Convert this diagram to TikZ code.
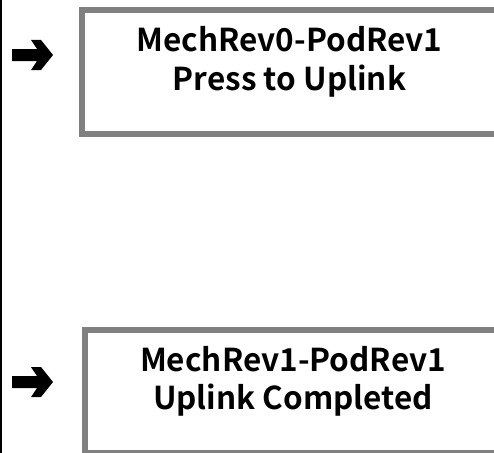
\documentclass[tikz,border=0pt]{standalone}
\usepackage{fontspec}
\setmainfont{Noto Sans CJK JP}[BoldFont=* Bold]
\begin{document}
\begin{tikzpicture}[x=1pt,y=-1pt,
  screen/.style={draw=boxgray,line width=6pt,minimum width=#1,inner sep=0pt},
  label/.style={font=\fontsize{31.5}{36}\selectfont\bfseries,anchor=base,inner sep=0pt},
  arrowglyph/.style={fill=black,draw=none}]
\definecolor{boxgray}{RGB}{128,128,128}
\useasboundingbox (0,0) rectangle (494,452);
\clip (0,0) rectangle (494,452);
\coordinate (ltop) at (1,-5);
\coordinate (lbot) at (1,460);
\draw[line width=2pt] (ltop) -- (lbot);
\node[screen=418pt,minimum height=124pt] (box1) at (291,72) {};
\node[screen=415pt,minimum height=123pt] (box2) at (292.5,391.5) {};
\node[label] (t1a) at (289.5,52) {MechRev0-PodRev1};
\node[label] (t1b) at (289.5,90) {Press to Uplink};
\node[label] (t2a) at (293,371) {MechRev1-PodRev1};
\node[label] (t2b) at (293,409) {Uplink Completed};
\begin{scope}[shift={(0,0)}]
\fill[arrowglyph] (12,49) -- (37,49) -- (31,40) -- (41,40) -- (53,55) -- (41,70) -- (31,70) -- (37,61) -- (12,61) -- cycle;
\end{scope}
\begin{scope}[shift={(0,327)}]
\fill[arrowglyph] (12,49) -- (37,49) -- (31,40) -- (41,40) -- (53,55) -- (41,70) -- (31,70) -- (37,61) -- (12,61) -- cycle;
\end{scope}
\end{tikzpicture}
\end{document}
